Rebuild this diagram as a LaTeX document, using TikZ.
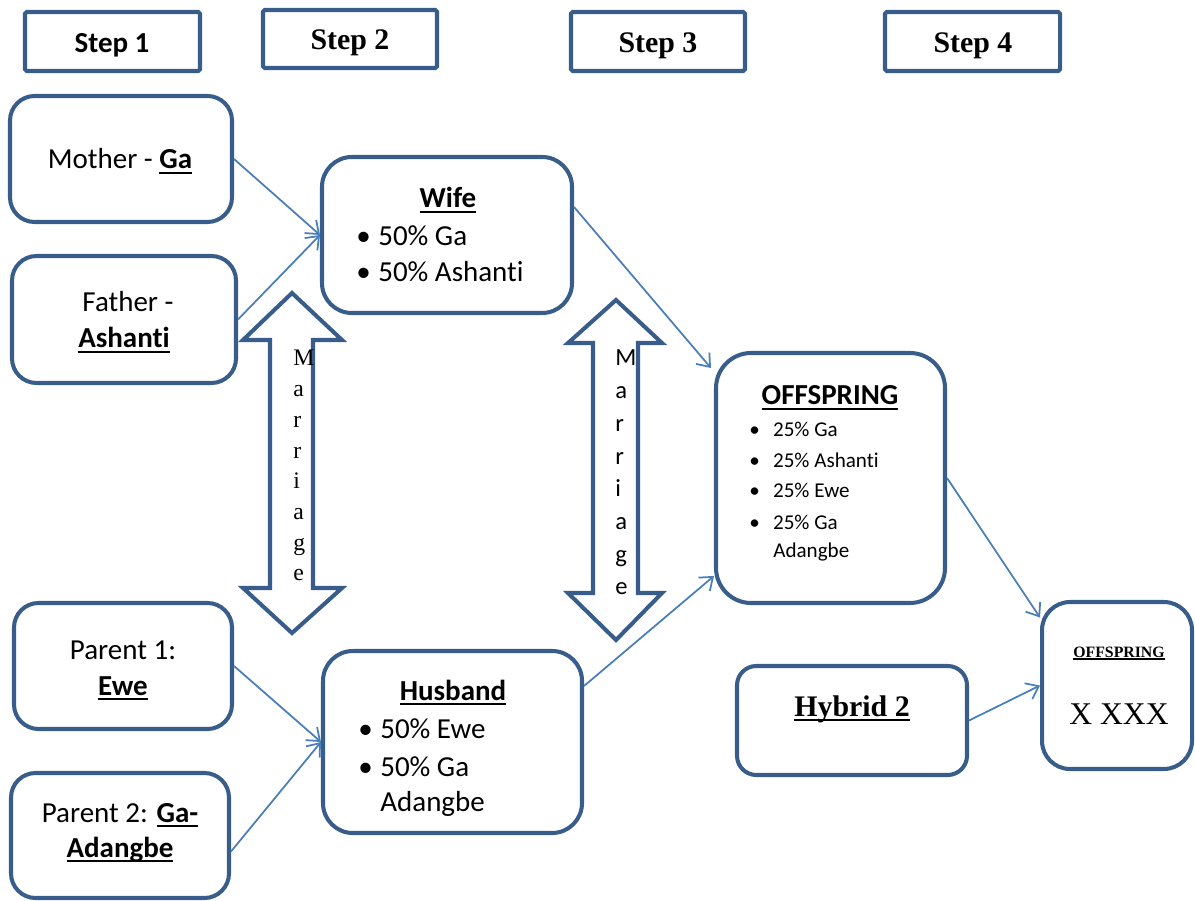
\documentclass[tikz,border=0pt]{standalone}
\usepackage{fontspec}
\setmainfont{Liberation Serif}
\newfontfamily\calibri[Ligatures=NoCommon]{Carlito}
\usetikzlibrary{arrows.meta,fit}
\definecolor{boxblue}{HTML}{385D8A}
\definecolor{linkblue}{HTML}{4A7EBB}
% bold text with a solid underline
\newcommand{\ub}[1]{\setbox0\hbox{\textbf{#1}}%
  \rlap{\vrule height -0.09em depth 0.165em width \wd0}\box0}

\begin{document}
\begin{tikzpicture}[x=0.02cm,y=-0.02cm,
  frame/.style={draw=boxblue, line width=2.3pt, inner sep=0pt, rounded corners=14pt},
  stepframe/.style={draw=boxblue, line width=2.3pt, inner sep=0pt, rounded corners=1pt},
  txt/.style={inner sep=0pt, anchor=base},
  item/.style={inner sep=0pt, anchor=base west},
  conn/.style={draw=linkblue, line width=1pt, -{Straight Barb[length=6.5pt,width=10pt]}},
  bigarrow/.style={draw=boxblue, line width=2.3pt, fill=white, line join=miter},
  calfont/.style={font=\calibri\fontsize{16.5}{19}\selectfont},
  smallcal/.style={font=\calibri\fontsize{12}{14}\selectfont},
  serifstep/.style={font=\bfseries\fontsize{17}{19}\selectfont}
]
\useasboundingbox (0,0) rectangle (1195,901);

% step headers
\node[stepframe, fit={(25,12)(200,71)}] (s1) {};
\node[stepframe, fit={(263,10)(437,68)}] (s2) {};
\node[stepframe, fit={(571,12)(745,71)}] (s3) {};
\node[stepframe, fit={(885,12)(1060,71)}] (s4) {};
\node[txt, font=\calibri\bfseries\fontsize{16.5}{18}\selectfont] (t1) at (112,53) {Step 1};
\node[txt, serifstep] (t2) at (350,50) {Step 2};
\node[txt, serifstep] (t3) at (658,53) {Step 3};
\node[txt, serifstep] (t4) at (973,53) {Step 4};

% marriage double arrows
\draw[bigarrow] (292,293) -- (342,340) -- (313,340) -- (313,588) -- (342,588)
  -- (292,633) -- (243,588) -- (270,588) -- (270,340) -- (243,340) -- cycle;
\draw[bigarrow] (616,300) -- (662,343) -- (638,343) -- (638,593) -- (662,593)
  -- (616,640) -- (568,593) -- (593,593) -- (593,343) -- (568,343) -- cycle;
\foreach \ch [count=\i from 0] in {M,a,r,r,i,a,g,e}
  \node[inner sep=0pt, anchor=base west, font=\fontsize{13.5}{15}\selectfont]
    (ml\i) at (293,366+30.7*\i) {\ch};
\foreach \ch [count=\i from 0] in {M,a,r,r,i,a,g,e}
  \node[inner sep=0pt, anchor=base west, font=\calibri\fontsize{14}{15}\selectfont]
    (mr\i) at (615,366+32.7*\i) {\ch};

% boxes
\node[frame, fit={(10,96)(232,222)}] (mother) {};
\node[frame, fit={(12,256)(236,383)}] (father) {};
\node[frame, rounded corners=17pt, fit={(322,157)(572,313)}] (wife) {};
\node[frame, rounded corners=20pt, fit={(716,353)(945,603)}] (off) {};
\node[frame, rounded corners=17pt, fit={(323,651)(582,833)}] (husband) {};
\node[frame, fit={(14,603)(232,729)}] (parentA) {};
\node[frame, fit={(11,773)(229,898)}] (parentB) {};
\node[frame, rounded corners=11pt, fit={(737,666)(967,775)}] (hybrid) {};
\node[frame, rounded corners=16pt, fit={(1042,602)(1192,769)}] (cross) {};

% box texts
\node[txt, calfont] (tmother) at (120,169) {Mother - \ub{Ga}};
\node[txt, calfont] (tfather) at (128,312) {Father -};
\node[txt, calfont] (tash) at (124,348) {\ub{Ashanti}};

\node[txt, calfont] (twife) at (448,208) {\ub{Wife}};
\node[item, calfont] (w1) at (356,246) {\makebox[12.5pt][l]{\textbullet}50\% Ga};
\node[item, calfont] (w2) at (356,282) {\makebox[12.5pt][l]{\textbullet}50\% Ashanti};

\node[txt, calfont] (thus) at (453,700) {\ub{Husband}};
\node[item, calfont] (h1) at (358,738) {\makebox[12.5pt][l]{\textbullet}50\% Ewe};
\node[item, calfont] (h2) at (358,776) {\makebox[12.5pt][l]{\textbullet}50\% Ga};
\node[item, calfont] (h3) at (380,811) {Adangbe};

\node[txt, calfont] (toff) at (830,405) {\ub{OFFSPRING}};
\node[item, smallcal] (o1) at (749,437) {\makebox[13.5pt][l]{\textbullet}25\% Ga};
\node[item, smallcal] (o2) at (749,467) {\makebox[13.5pt][l]{\textbullet}25\% Ashanti};
\node[item, smallcal] (o3) at (749,497) {\makebox[13.5pt][l]{\textbullet}25\% Ewe};
\node[item, smallcal] (o4) at (749,529) {\makebox[13.5pt][l]{\textbullet}25\% Ga};
\node[item, smallcal] (o5) at (773,557) {Adangbe};

\node[txt, calfont] (tpa) at (123,659) {Parent 1:};
\node[txt, calfont] (tpb) at (123,695) {\ub{Ewe}};
\node[txt, calfont] (tpc) at (120,822) {Parent 2: \ub{Ga-}};
\node[txt, calfont] (tpd) at (120,857) {\ub{Adangbe}};

\node[txt, font=\fontsize{17}{20}\selectfont] (thyb) at (852,716) {\ub{Hybrid 2}};
\node[txt, font=\fontsize{9}{11}\selectfont] (tcross) at (1119,657) {\ub{OFFSPRING}};
\node[txt, font=\fontsize{18}{21}\selectfont] (txxx) at (1119,724) {X XXX};

% connectors
\draw[conn] (mother.east) -- (wife.west);
\draw[conn] (father.east) -- (wife.west);
\draw[conn] ([yshift=0.56cm]wife.east) -- ([xshift=-0.06cm,yshift=2.2cm]off.west);
\draw[conn] ([yshift=1.12cm]husband.east) -- ([yshift=-1.96cm]off.west);
\draw[conn] (parentA.east) -- (husband.west);
\draw[conn] ([yshift=-0.32cm]parentB.east) -- (husband.west);
\draw[conn] (off.east) -- ([yshift=1.36cm]cross.west);
\draw[conn] (hybrid.east) -- (cross.west);
\end{tikzpicture}
\end{document}
